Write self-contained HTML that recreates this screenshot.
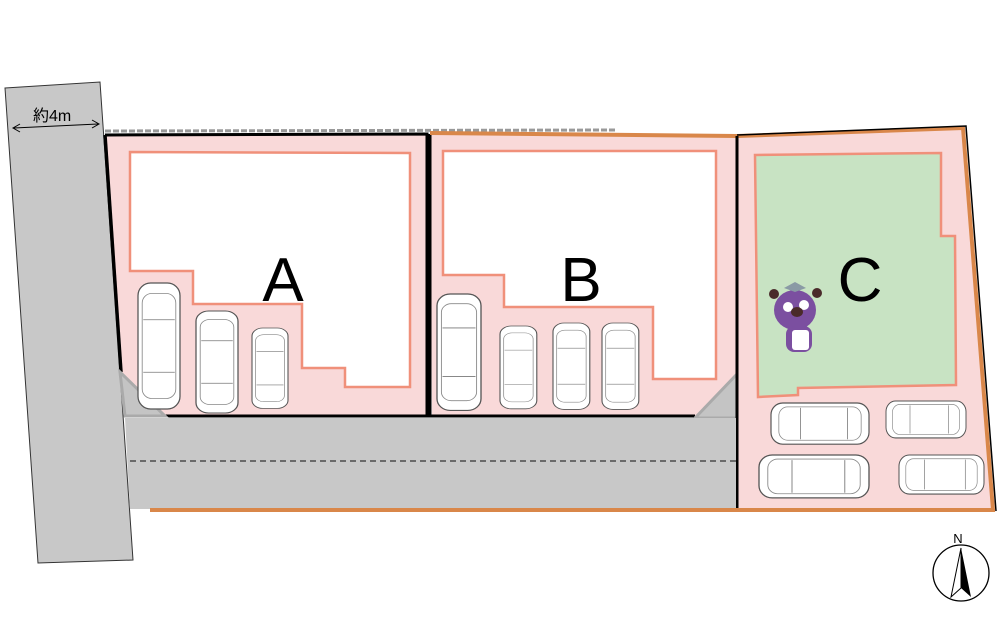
<!DOCTYPE html>
<html><head><meta charset="utf-8"><style>
html,body{margin:0;padding:0;background:#fff;width:1000px;height:643px;overflow:hidden}
svg{display:block}
</style></head><body>
<svg width="1000" height="643" viewBox="0 0 1000 643" xmlns="http://www.w3.org/2000/svg">
<defs>
<g id="carV">
<rect x="0" y="0" width="40" height="120" rx="12" fill="#fff" stroke="#555" stroke-width="1.2"/>
<rect x="4" y="10" width="32" height="100" rx="9" fill="none" stroke="#888" stroke-width="0.8"/>
<line x1="5" y1="35" x2="35" y2="35" stroke="#777" stroke-width="0.8"/>
<line x1="5" y1="85" x2="35" y2="85" stroke="#777" stroke-width="0.8"/>
</g>
<g id="carH">
<rect x="0" y="0" width="100" height="42" rx="12" fill="#fff" stroke="#555" stroke-width="1.2"/>
<rect x="8" y="4" width="84" height="34" rx="9" fill="none" stroke="#888" stroke-width="0.8"/>
<line x1="30" y1="5" x2="30" y2="37" stroke="#777" stroke-width="0.8"/>
<line x1="78" y1="5" x2="78" y2="37" stroke="#777" stroke-width="0.8"/>
</g>
</defs>
<polygon points="5,88 100,82 133,560 38,563" fill="#c8c8c8" stroke="#333" stroke-width="1"/>
<line x1="105" y1="131" x2="615" y2="130" stroke="#999" stroke-width="3" stroke-dasharray="6,2"/>
<polygon points="105,135 427,134 427,416 125,416" fill="#f9d9d9"/>
<polyline points="105,135 427,134 427,416 165,416" fill="none" stroke="#000" stroke-width="3"/>
<line x1="105" y1="135" x2="121" y2="372" stroke="#000" stroke-width="3.5"/>
<polygon points="120,372 125,416 165,416" fill="#c4c4c4" stroke="#aaa" stroke-width="3"/>
<polygon points="430,134 737,137 737,416 432,416" fill="#f9d9d9"/>
<polyline points="430,134 430,416 695,416" fill="none" stroke="#000" stroke-width="3"/>
<line x1="430" y1="133" x2="737" y2="136" stroke="#d9874a" stroke-width="4"/>
<polygon points="738,373 738,418 695,418" fill="#c4c4c4" stroke="#aaa" stroke-width="3"/>
<polygon points="737,136 963,128 993,510 737,510" fill="#f9d9d9"/>
<polyline points="737,136 963,128 993,510 737,510" fill="none" stroke="#d9874a" stroke-width="4"/>
<polyline points="737,135 966,126 996,511" fill="none" stroke="#000" stroke-width="1.5"/>
<line x1="737" y1="136" x2="737" y2="510" stroke="#000" stroke-width="3"/>
<polygon points="125,418 736,418 736,509 130,509" fill="#c8c8c8"/>
<line x1="130" y1="461" x2="736" y2="461" stroke="#333" stroke-width="1.2" stroke-dasharray="6,4"/>
<line x1="150" y1="510" x2="993" y2="510" stroke="#d9874a" stroke-width="4"/>
<polygon points="130,152 410,153 410,387 345,387 345,368 302,368 302,304 193,304 193,271 130,271" fill="#fff" stroke="#f0907a" stroke-width="2.5"/>
<polygon points="443,151 716,151 716,379 653,379 653,307 504,307 504,275 443,275" fill="#fff" stroke="#f0907a" stroke-width="2.5"/>
<polygon points="755,155 941,153 941,236 955,236 956,385 798,388 798,395 758,397" fill="#c8e3c3" stroke="#f0907a" stroke-width="2.5"/>
<text x="283" y="301" font-family="Liberation Sans, sans-serif" font-size="62" text-anchor="middle" fill="#000">A</text>
<text x="581" y="301" font-family="Liberation Sans, sans-serif" font-size="62" text-anchor="middle" fill="#000">B</text>
<text x="860" y="301" font-family="Liberation Sans, sans-serif" font-size="62" text-anchor="middle" fill="#000">C</text>
<use href="#carV" transform="translate(138,283) scale(1.05,1.05)"/>
<use href="#carV" transform="translate(196,311) scale(1.05,0.85)"/>
<use href="#carV" transform="translate(252,328) scale(0.9,0.67)"/>
<use href="#carV" transform="translate(437,294) scale(1.1,0.97)"/>
<use href="#carV" transform="translate(500,326) scale(0.92,0.69)"/>
<use href="#carV" transform="translate(553,323) scale(0.92,0.72)"/>
<use href="#carV" transform="translate(602,323) scale(0.92,0.72)"/>
<use href="#carH" transform="translate(771,403) scale(0.98,0.98)"/>
<use href="#carH" transform="translate(886,401) scale(0.8,0.88)"/>
<use href="#carH" transform="translate(759,455) scale(1.1,1.02)"/>
<use href="#carH" transform="translate(899,455) scale(0.85,0.93)"/>
<g>
<circle cx="774" cy="294" r="5" fill="#4a2a2a"/>
<circle cx="817" cy="293" r="5" fill="#4a2a2a"/>
<ellipse cx="795" cy="310" rx="21" ry="20" fill="#7b4fa0"/>
<polygon points="784,288 795,282 806,288 795,292" fill="#8a9aa5"/>
<circle cx="788" cy="307" r="5" fill="#fff"/><circle cx="804" cy="305" r="5" fill="#fff"/>
<ellipse cx="797" cy="312" rx="6" ry="5" fill="#4a2a2a"/>
<rect x="786" y="326" width="26" height="26" rx="8" fill="#7b4fa0"/>
<rect x="792" y="330" width="17" height="20" rx="3" fill="#fff"/>
</g>
<text x="33" y="121" font-family="Liberation Sans, Noto Sans CJK JP, sans-serif" font-size="16" fill="#000">約4m</text>
<line x1="14" y1="128" x2="98" y2="124" stroke="#000" stroke-width="1"/>
<polyline points="20,124 13,128 20,132" fill="none" stroke="#000" stroke-width="1"/>
<polyline points="92,120 99,124 92,128" fill="none" stroke="#000" stroke-width="1"/>
<circle cx="961" cy="573" r="28" fill="#fff" stroke="#000" stroke-width="1.3"/>
<polygon points="961,548 951,597 961,588" fill="#fff" stroke="#000" stroke-width="1"/>
<polygon points="961,548 971,597 961,588" fill="#000"/>
<text x="958" y="543" font-family="Liberation Sans, sans-serif" font-size="13" text-anchor="middle" fill="#000">N</text>
</svg>
</body></html>
